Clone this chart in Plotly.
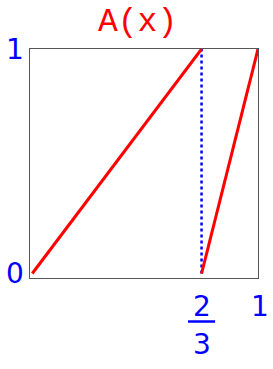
import plotly.graph_objects as go

# Data
break_x = 0.75  # where the jump is drawn in the picture (labelled 2/3)
seg1_x = [0, break_x]
seg1_y = [0, 1]
seg2_x = [break_x, 1]
seg2_y = [0, 1]
dot_x = [break_x, break_x]
dot_y = [0, 1]
title_text = "A(x)"
ytick_vals = [0, 1]
ytick_text = ["0", "1"]
xtick_num, xtick_den = "2", "3"
xtick_one = "1"

RED = "#ff0000"
BLUE = "#0000ff"
BLUE_FONT = dict(family="DejaVu Sans, Verdana, sans-serif", size=28, color=BLUE)

fig = go.Figure()
fig.add_trace(go.Scatter(x=dot_x, y=dot_y, mode="lines",
                         line=dict(color=BLUE, width=2.5, dash="dot"), hoverinfo="skip"))
fig.add_trace(go.Scatter(x=seg1_x, y=seg1_y, mode="lines",
                         line=dict(color=RED, width=3), hoverinfo="skip"))
fig.add_trace(go.Scatter(x=seg2_x, y=seg2_y, mode="lines",
                         line=dict(color=RED, width=3), hoverinfo="skip"))

annotations = []
for v, t in zip(ytick_vals, ytick_text):
    annotations.append(dict(x=0, xref="paper", xanchor="right", xshift=-4,
                            y=v, yref="y", yanchor="middle",
                            text=t, showarrow=False, font=BLUE_FONT))
annotations.append(dict(x=1, xref="x", xanchor="center", xshift=2,
                        y=0, yref="paper", yanchor="top", yshift=-10,
                        text=xtick_one, showarrow=False, font=BLUE_FONT))
annotations.append(dict(x=break_x, xref="x", xanchor="center",
                        y=0, yref="paper", yanchor="top", yshift=-10,
                        text=xtick_num, showarrow=False, font=BLUE_FONT))
annotations.append(dict(x=break_x, xref="x", xanchor="center",
                        y=0, yref="paper", yanchor="top", yshift=-48,
                        text=xtick_den, showarrow=False, font=BLUE_FONT))
annotations.append(dict(x=0.47, xref="paper", xanchor="center",
                        y=1, yref="paper", yanchor="bottom", yshift=6,
                        text=title_text, showarrow=False,
                        font=dict(family="Courier New, Liberation Mono, monospace", size=33, color=RED)))

fig.update_layout(
    width=273, height=369,
    margin=dict(l=30, r=15, t=49, b=91),
    paper_bgcolor="white", plot_bgcolor="white",
    showlegend=False,
    annotations=annotations,
    shapes=[dict(type="line", xref="x", yref="paper", x0=break_x - 0.06, x1=break_x + 0.06,
                 y0=-0.19, y1=-0.19, line=dict(color=BLUE, width=2.5))],
)
fig.update_xaxes(range=[-0.01, 1.0], showgrid=False, zeroline=False, showticklabels=False,
                 ticks="", showline=True, linecolor="#555555", linewidth=1, mirror=True)
fig.update_yaxes(range=[-0.02, 1.0], showgrid=False, zeroline=False, showticklabels=False,
                 ticks="", showline=True, linecolor="#555555", linewidth=1, mirror=True)

fig.write_html("out.html", config={"displayModeBar": False},
               post_script="document.body.style.margin='0';")
